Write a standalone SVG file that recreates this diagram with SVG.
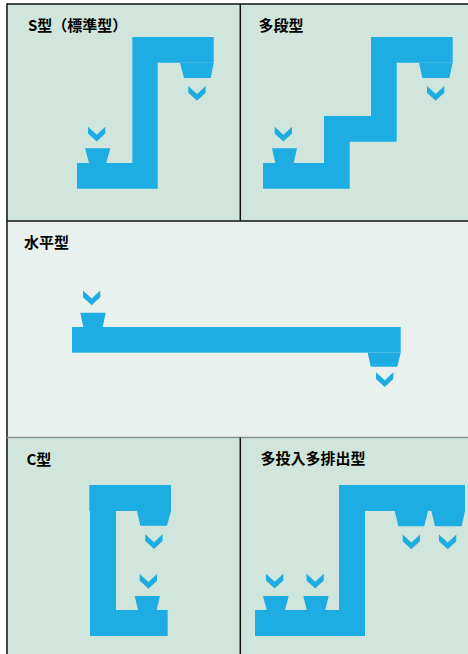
<svg xmlns="http://www.w3.org/2000/svg" width="468" height="654" viewBox="0 0 468 654">
<style>
.bg{fill:#d0e6dc}
.bg2{fill:#e8f1ee}
.b{fill:#1eade2}
.t{font-family:"Noto Sans CJK JP","Noto Sans",sans-serif;font-weight:bold;font-size:15px;fill:#000}
.ln{stroke:#111;stroke-width:1.5;fill:none}
</style>
<defs>
<path id="chev" class="b" d="M0,0 L8.7,8 L17.3,0 L17.3,6.7 L8.7,14.7 L0,6.7 Z"/>
</defs>
<rect x="0" y="0" width="468" height="654" fill="#ffffff"/>
<rect class="bg" x="7" y="4" width="461" height="217"/>
<rect class="bg2" x="7" y="221" width="461" height="216.5"/>
<rect class="bg" x="7" y="437.5" width="461" height="216.5"/>

<g id="s-type">
<text class="t" x="28" y="31">S型（標準型）</text>
<path class="b" d="M77,163 H132.3 V37 H213.7 V62.7 H157.7 V188.7 H77 Z"/>
<path class="b" d="M180,62.7 H213.7 L210.7,78 H184 Z"/>
<use href="#chev" x="188.3" y="86"/>
<use href="#chev" x="88" y="126.7"/>
<path class="b" d="M85,148.3 H110.3 L106.3,163 H89 Z"/>
</g>

<g id="multi-stage">
<text class="t" x="258.5" y="31">多段型</text>
<path class="b" d="M263,163 H324 V116 H371 V37 H452.7 V62.7 H396.7 V141.7 H349.7 V188.7 H263 Z"/>
<path class="b" d="M419,62.7 H452.7 L449.3,78 H422.3 Z"/>
<use href="#chev" x="427" y="86"/>
<use href="#chev" x="274.7" y="126.7"/>
<path class="b" d="M272,148.3 H297 L293.7,163 H275.3 Z"/>
</g>

<g id="horizontal">
<text class="t" x="24" y="247.5">水平型</text>
<rect class="b" x="72" y="327" width="328.7" height="25.7"/>
<path class="b" d="M80.3,312.7 H105.7 L102.7,327 H83.3 Z"/>
<use href="#chev" x="83" y="290.5"/>
<path class="b" d="M367.7,352.7 H400.7 L397.3,366.7 H370.7 Z"/>
<use href="#chev" x="376" y="372.3"/>
</g>

<g id="c-type">
<text class="t" x="26.5" y="465">C型</text>
<path class="b" d="M89.3,485 H171 V511 H116 V610 H167.7 V636 H90 V511 H89.3 Z"/>
<path class="b" d="M137,511 H171 L167,525.7 H140.3 Z"/>
<use href="#chev" x="145.3" y="534.3"/>
<use href="#chev" x="139.7" y="574"/>
<path class="b" d="M134.7,596 H160 L156.7,610 H138 Z"/>
</g>

<g id="multi-in-out">
<text class="t" x="260.5" y="464">多投入多排出型</text>
<path class="b" d="M255,610 H339 V485 H465 V511 H365 V636 H255 Z"/>
<path class="b" d="M394.7,511 H428 L424.3,526.3 H398.3 Z"/>
<path class="b" d="M431.3,511 H465 L461.7,526.3 H435 Z"/>
<use href="#chev" x="402.7" y="534.5"/>
<use href="#chev" x="439" y="534.5"/>
<use href="#chev" x="266" y="573.8"/>
<use href="#chev" x="306.5" y="573.8"/>
<path class="b" d="M263,596 H288.7 L285,610 H266.7 Z"/>
<path class="b" d="M303.3,596 H328.7 L325.3,610 H306.7 Z"/>
</g>

<g id="frame">
<line class="ln" x1="7" y1="4" x2="468" y2="4"/>
<line class="ln" x1="7" y1="3.3" x2="7" y2="654"/>
<line class="ln" x1="240.3" y1="4" x2="240.3" y2="221"/>
<line class="ln" x1="7" y1="221" x2="468" y2="221"/>
<line x1="7" y1="437.5" x2="468" y2="437.5" stroke="#8a8f8d" stroke-width="1.5"/>
<line class="ln" x1="240.3" y1="437.5" x2="240.3" y2="654"/>
</g>
</svg>
